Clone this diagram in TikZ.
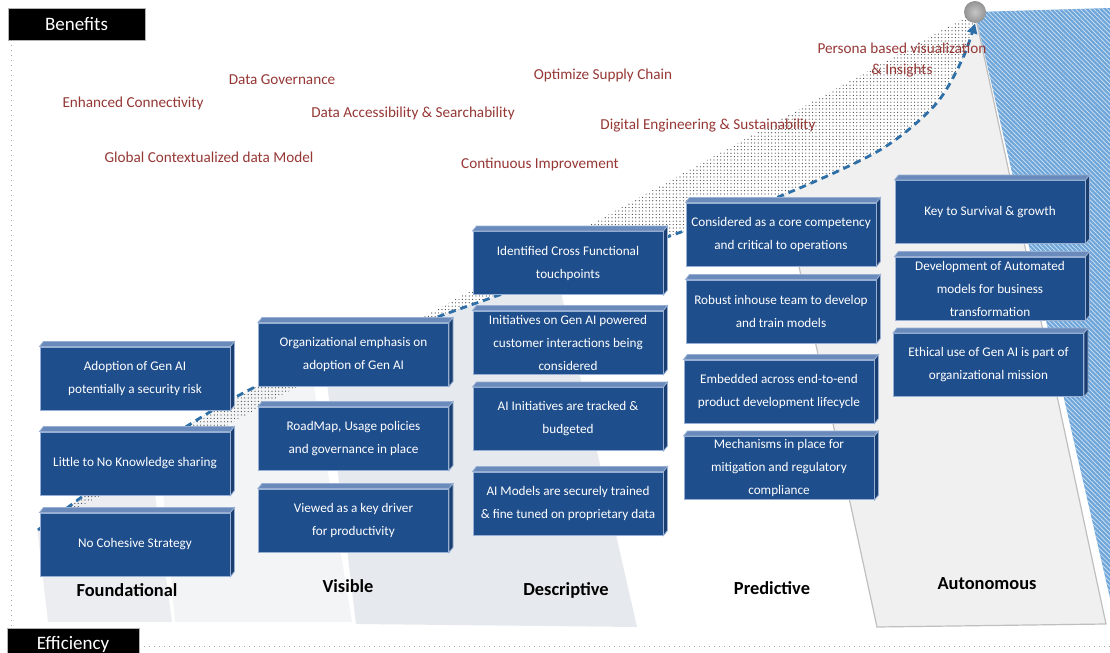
\documentclass[tikz,border=0pt]{standalone}
\usepackage{fontspec}
\setmainfont{Carlito}
\usetikzlibrary{arrows.meta,patterns.meta}

\definecolor{cardblue}{RGB}{31,78,140}
\definecolor{cardedge}{RGB}{150,175,210}
\definecolor{cardtop}{RGB}{105,138,186}
\definecolor{cardside}{RGB}{26,62,112}
\definecolor{benefitred}{RGB}{149,55,53}
\definecolor{trendblue}{RGB}{46,111,167}
\definecolor{wedgeblue}{RGB}{111,166,218}
\definecolor{bandF}{RGB}{235,237,240}
\definecolor{bandV}{RGB}{243,244,246}
\definecolor{bandD}{RGB}{230,233,237}
\definecolor{panelgray}{RGB}{240,240,240}

\begin{document}
\begin{tikzpicture}[x=0.5pt, y=-0.5pt,
    card/.style={rectangle, draw=cardedge, line width=0.5pt, fill=cardblue, minimum width=95pt, minimum height=31.5pt, inner sep=1pt, align=center, text=white, font=\fontsize{6.6}{11.5}\selectfont},
    benefit/.style={text=benefitred, font=\fontsize{7.6}{10.5}\selectfont, align=center},
    level/.style={font=\fontsize{9.2}{11}\selectfont\bfseries},
    tag/.style={rectangle, fill=black, draw=gray!60, minimum height=16pt, text=white, font=\fontsize{9.5}{11}\selectfont},
    axisline/.style={gray!70, line width=0.5pt, dotted},
    trend/.style={draw=trendblue, line width=1.4pt, dash pattern=on 3.5pt off 2.5pt, -{Triangle[length=5pt,width=5pt]}}
]
\useasboundingbox (0,0) rectangle (1110,653);

% shaded bands, kept below the trend curve
\begin{scope}
  \clip plot[smooth] coordinates {(38,530) (120,470) (257,386) (440,316) (667,237) (783,195) (880,150) (935,105) (962,60) (975,23)} -- (1110,0) -- (1110,653) -- (25,653) -- (25,530) -- cycle;
  \fill[bandF] (20,380) -- (140,380) -- (172,622) -- (48,622) -- cycle;
  \fill[bandV] (145,300) -- (300,300) -- (352,622) -- (175,622) -- cycle;
  \fill[bandD] (305,200) -- (540,200) -- (637,627) -- (356,624) -- cycle;
  \filldraw[fill=panelgray, draw=gray!50, line width=0.6pt] (750,40) -- (877,627) -- (1106,624) -- (975,14) -- cycle;
\end{scope}

% blue wedge on the right
\fill[wedgeblue] (975,12) -- (1110,8) -- (1110,598) -- cycle;
\fill[pattern={Lines[angle=-45,distance=1.6pt,line width=0.35pt]}, pattern color=white!70!wedgeblue] (975,12) -- (1110,8) -- (1110,598) -- cycle;

% dotted area between straight rise and curve
\fill[pattern={Dots[radius=0.3pt,distance=1.7pt]}, pattern color=black!75] plot[smooth] coordinates {(38,530) (120,470) (257,386) (440,316) (667,237) (783,195) (880,150) (935,105) (962,60) (975,23)} -- (975,12) -- cycle;

% peak and trend
\node[circle, minimum size=11pt, inner sep=0pt, shade, inner color=gray!45, outer color=gray!85] (peak) at (975,12) {};
\coordinate (origin) at (38,530);
\draw[trend] plot[smooth] coordinates {(origin) (120,470) (257,386) (440,316) (667,237) (783,195) (880,150) (935,105) (962,60) (peak.south)};

% axes
\node[tag, minimum width=68.5pt] (benefits) at (76.5,24) {Benefits};
\node[tag, minimum width=66pt] (efficiency) at (73,644) {Efficiency};
\draw[axisline] ([xshift=2pt]benefits.south west) -- ([xshift=2.5pt]efficiency.north west);
\coordinate (xend) at (1110,646);
\draw[axisline] (efficiency.east |- xend) -- (xend);

% benefits
\node[benefit] (gov) at (282,80) {Data Governance};
\node[benefit] (conn) at (133,103) {Enhanced Connectivity};
\node[benefit] (model) at (209,157) {Global Contextualized data Model};
\node[benefit] (access) at (413,113) {Data Accessibility \& Searchability};
\node[benefit] (supply) at (603,75) {Optimize Supply Chain};
\node[benefit] (digital) at (708,126) {Digital Engineering \& Sustainability};
\node[benefit] (improve) at (540,164) {Continuous Improvement};
\node[benefit] (persona) at (902,60) {Persona based visualization\\\& Insights};

% Foundational
\node[card] (f1) at (135,378.5) {Adoption of Gen AI\\potentially a security risk};
\node[card] (f2) at (135,463.5) {Little to No Knowledge sharing};
\node[card] (f3) at (135,544.5) {No Cohesive Strategy};
% Visible
\node[card] (v1) at (353.5,354.5) {Organizational emphasis on\\adoption of Gen AI};
\node[card] (v2) at (353.5,438.5) {RoadMap, Usage policies\\and governance in place};
\node[card] (v3) at (353.5,520.5) {Viewed as a key driver\\for productivity};
% Descriptive
\node[card] (d1) at (568,263) {Identified Cross Functional\\touchpoints};
\node[card] (d2) at (568,342.5) {Initiatives on Gen AI powered\\customer interactions being\\considered};
\node[card] (d3) at (568,419) {AI Initiatives are tracked \&\\budgeted};
\node[card] (d4) at (568,503.5) {AI Models are securely trained\\\& fine tuned on proprietary data};
% Predictive
\node[card] (p1) at (781,234.5) {Considered as a core competency\\and critical to operations};
\node[card] (p2) at (781,311.5) {Robust inhouse team to develop\\and train models};
\node[card] (p3) at (779,391.5) {Embedded across end-to-end\\product development lifecycle};
\node[card] (p4) at (779,468) {Mechanisms in place for\\mitigation and regulatory\\compliance};
% Autonomous
\node[card] (a1) at (990,212) {Key to Survival \& growth};
\node[card] (a2) at (990,288.5) {Development of Automated\\models for business\\transformation};
\node[card] (a3) at (988.5,365) {Ethical use of Gen AI is part of\\organizational mission};

% top and side faces of the cards
\foreach \n in {f1,f2,f3,v1,v2,v3,d1,d2,d3,d4,p1,p2,p3,p4,a1,a2,a3} {
  \filldraw[fill=cardtop, draw=cardedge, line width=0.4pt] (\n.north west) -- ++(4,-5) -- ([shift={(4,-5)}]\n.north east) -- (\n.north east) -- cycle;
  \filldraw[fill=cardside, draw=cardedge, line width=0.4pt] (\n.north east) -- ++(4,-5) -- ([shift={(4,-5)}]\n.south east) -- (\n.south east) -- cycle;
}

% levels
\node[level] (foundational) at (127,590) {Foundational};
\node[level] (visible) at (348,586) {Visible};
\node[level] (descriptive) at (566,590) {Descriptive};
\node[level] (predictive) at (772,588) {Predictive};
\node[level] (autonomous) at (987,584) {Autonomous};

\end{tikzpicture}
\end{document}
